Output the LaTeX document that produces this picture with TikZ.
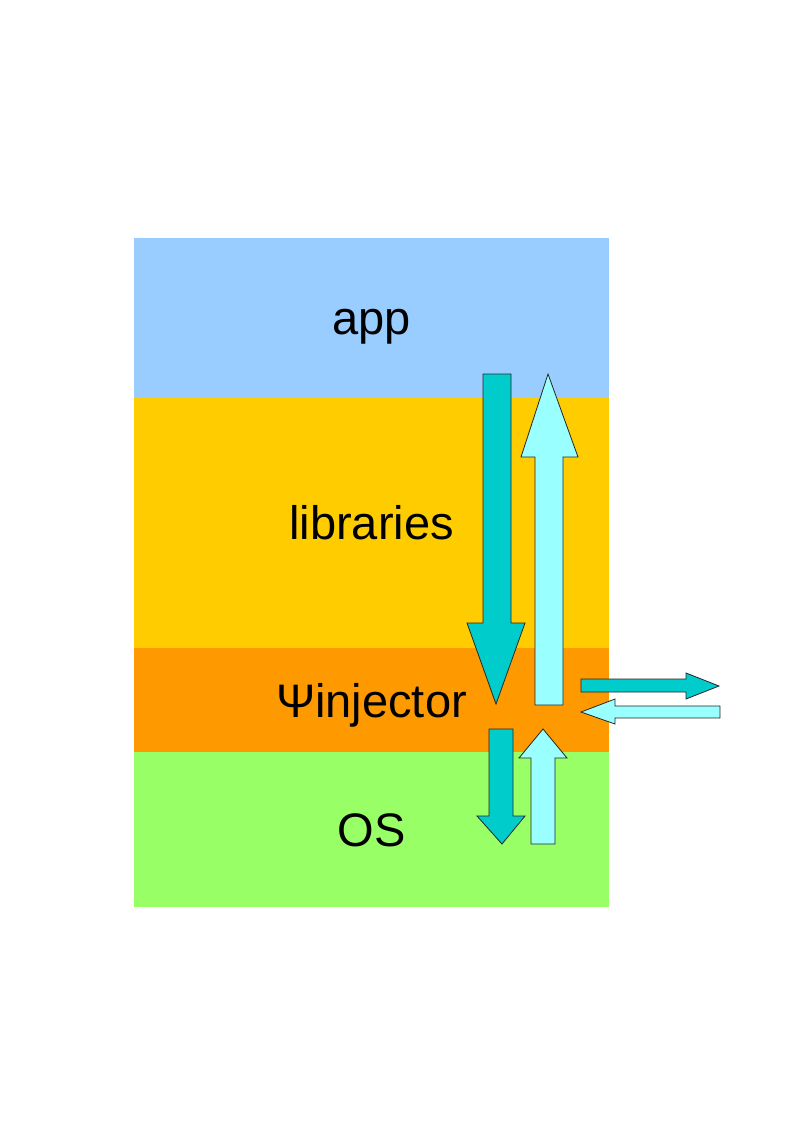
\documentclass[tikz,border=0pt]{standalone}
\usepackage{fontspec}
\setmainfont{Liberation Sans}
\usepackage{tikz}
\definecolor{appblue}{HTML}{99CCFF}
\definecolor{libyellow}{HTML}{FFCC00}
\definecolor{injorange}{HTML}{FF9900}
\definecolor{osgreen}{HTML}{99FF66}
\definecolor{calldown}{HTML}{00CCCC}
\definecolor{callup}{HTML}{99FFFF}

\begin{document}
\begin{tikzpicture}[
  x=1pt, y=-1pt,
  every node/.style={font=\fontsize{47}{56}\selectfont},
  layer/.style={minimum width=475pt, inner sep=0pt, text height=34pt, text depth=0pt},
  down/.style={fill=calldown, draw=black!85, line width=0.8pt, line join=miter},
  up/.style={fill=callup, draw=black!85, line width=0.8pt, line join=miter}
]
\useasboundingbox (0,0) rectangle (794,1123);
% the layers
\node[layer, fill=appblue, minimum height=159pt] (app) at (371.5,317.5) {app};
\node[layer, fill=libyellow, minimum height=251pt] (lib) at (371.5,522.5) {libraries};
\node[layer, fill=injorange, minimum height=104pt] (inj) at (371.5,700) {Ψinjector};
\node[layer, fill=osgreen, minimum height=155pt] (os) at (371.5,829.5) {OS};
% calls going down and coming back up
\draw[down] (483,374) -- (511,374) -- (511,623) -- (525,623) -- (496,704) -- (467,623) -- (483,623) -- cycle;
\draw[up] (548,374) -- (578,457) -- (563,457) -- (563,705) -- (535,705) -- (535,457) -- (521,457) -- cycle;
\draw[down] (489,729) -- (513,729) -- (513,816) -- (525,816) -- (502,844) -- (477,816) -- (489,816) -- cycle;
\draw[up] (543,729) -- (567,758) -- (555,758) -- (555,844) -- (531,844) -- (531,758) -- (519,758) -- cycle;
% out to the side
\draw[down] (581,679) -- (686,679) -- (686,673) -- (719,686) -- (686,699) -- (686,692) -- (581,692) -- cycle;
\draw[up] (581,712) -- (615,699) -- (615,706) -- (720,706) -- (720,718) -- (615,718) -- (615,724) -- cycle;
\end{tikzpicture}
\end{document}
